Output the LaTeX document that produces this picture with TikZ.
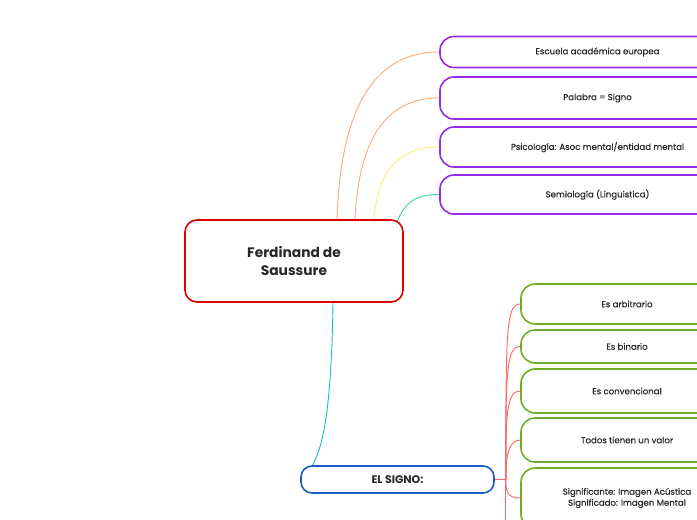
\documentclass[tikz,border=0pt]{standalone}
\usepackage{fontspec}
\setmainfont{Poppins}
\newfontfamily\labelfont{Poppins}[FakeBold=0.35]
\usetikzlibrary{calc, backgrounds}

\definecolor{inkgray}{RGB}{40,40,40}
\definecolor{topicviolet}{RGB}{153,41,234}
\definecolor{rootred}{RGB}{224,0,0}
\definecolor{signoblue}{RGB}{30,90,200}
\definecolor{featgreen}{RGB}{110,175,40}
\definecolor{linkorange}{RGB}{255,170,120}
\definecolor{linkyellow}{RGB}{250,238,130}
\definecolor{linkteal}{RGB}{60,208,160}
\definecolor{linkcyan}{RGB}{20,190,210}
\definecolor{linkred}{RGB}{255,100,100}

\begin{document}
\begin{tikzpicture}[x=1pt, y=-1pt, text=inkgray,
    font=\labelfont\fontsize{8.6}{11}\selectfont,
    topicbox/.style={draw=topicviolet, line width=1.6pt, fill=white,
        rounded corners=14pt, minimum width=315pt, inner sep=0pt},
    featbox/.style={draw=featgreen, line width=1.6pt, fill=white,
        rounded corners=14pt, minimum width=212pt, inner sep=0pt, align=center},
    rootbox/.style={draw=rootred, line width=1.6pt, fill=white,
        rounded corners=12pt, minimum width=218pt, minimum height=82pt,
        align=center, font=\rmfamily\fontsize{13.8}{18}\selectfont\bfseries},
    signobox/.style={draw=signoblue, line width=1.6pt, fill=white,
        rounded corners=11pt, minimum width=193pt, minimum height=27pt,
        font=\rmfamily\fontsize{11}{13}\selectfont\bfseries},
    link/.style={line width=0.9pt}]
          \useasboundingbox (0,0) rectangle (697,520);
          \clip (0,0) rectangle (697,520);

          \node[rootbox] (saussure) at (294,261) {Ferdinand de\\Saussure};
          \node[signobox] (signo) at (397.5,479.5) {EL SIGNO:};

          % right hand topics
          \node[topicbox, minimum height=31pt] (escuela) at (597.5,52) {Escuela académica europea};
          \node[topicbox, minimum height=42pt] (palabra) at (597.5,98) {Palabra = Signo};
          \node[topicbox, minimum height=40pt] (psico) at (597.5,147) {Psicología: Asoc mental/entidad mental};
          \node[topicbox, minimum height=39pt] (semio) at (597.5,194.5) {Semiología (Linguistica)};

          \node[featbox, minimum height=40pt] (arbitrario) at (627,304) {Es arbitrario};
          \node[featbox, minimum height=33pt] (binario) at (627,346.5) {Es binario};
          \node[featbox, minimum height=44pt] (convencional) at (627,391) {Es convencional};
          \node[featbox, minimum height=44pt] (valor) at (627,440) {Todos tienen un valor};
          \node[featbox, minimum height=60pt] (significante) at (627,498)
              {Significante: Imagen Acústica\\Significado: Imagen Mental};

          \begin{scope}[on background layer]
          \fill[white] (0,0) rectangle (697,520);
          \draw[link, linkorange] ([xshift=43]saussure.north) .. controls +(4,-120) and +(-60,0) .. (escuela.west);
          \draw[link, linkorange] ([xshift=61]saussure.north) .. controls +(4,-85) and +(-50,0) .. (palabra.west);
          \draw[link, linkyellow] ([xshift=80]saussure.north) .. controls +(4,-50) and +(-40,0) .. (psico.west);
          \draw[link, linkteal] ([xshift=-8,yshift=-6]saussure.north east) .. controls +(8,-22) and +(-25,0) .. (semio.west);

          \draw[link, linkcyan] ([xshift=39]saussure.south) .. controls +(-2,135) and +(18,-14) .. (signo.west);

          \draw[linkred, line width=1.6pt] (signo.east) -- ++(11,0) coordinate (hub);
          \foreach \n in {arbitrario, binario, convencional, valor} {
            \draw[link, linkred] (hub) .. controls ($(hub |- \n.west)+(0,25)$) and +(-14,0) .. (\n.west);
          }
          \draw[link, linkred] (hub) .. controls +(0,12) and +(-13,0) .. (significante.west);
          \coordinate (trunkEnd) at (hub |- 0,530);
          \draw[link, linkred] (hub) -- (trunkEnd);
          \end{scope}
      \end{tikzpicture}
\end{document}
